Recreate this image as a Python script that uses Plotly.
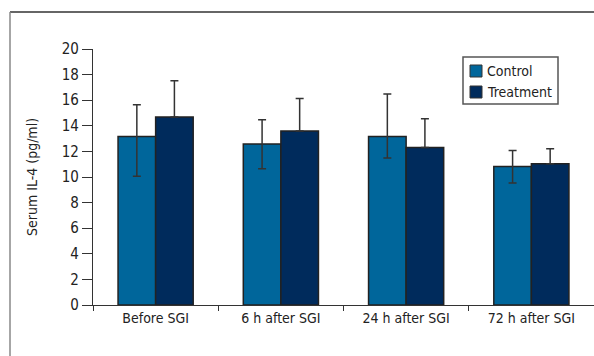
import plotly.graph_objects as go

categories = ["Before SGI", "6 h after SGI", "24 h after SGI", "72 h after SGI"]
control = [13.17, 12.58, 13.17, 10.83]
control_err_plus = [2.48, 1.90, 3.31, 1.25]
control_err_minus = [3.12, 1.93, 1.69, 1.30]
treatment = [14.69, 13.59, 12.31, 11.04]
treatment_err_plus = [2.83, 2.55, 2.24, 1.17]
treatment_err_minus = [0, 0, 0, 0]
y_ticks = [0, 2, 4, 6, 8, 10, 12, 14, 16, 18, 20]
series_names = ["Control", "Treatment"]
series_colors = ["#00669b", "#002b5c"]

W, H = 594, 356
L, R, T, B = 93, 0, 49, 51
FONT = "DejaVu Sans Condensed, DejaVu Sans, sans-serif"

fig = go.Figure()
fig.add_trace(go.Bar(
    name=series_names[0], x=categories, y=control,
    marker=dict(color=series_colors[0], line=dict(color="#222222", width=1.5)),
    error_y=dict(type="data", symmetric=False, array=control_err_plus,
                 arrayminus=control_err_minus, color="#333333", thickness=1.5, width=4),
))
fig.add_trace(go.Bar(
    name=series_names[1], x=categories, y=treatment,
    marker=dict(color=series_colors[1], line=dict(color="#222222", width=1.5)),
    error_y=dict(type="data", symmetric=False, array=treatment_err_plus,
                 arrayminus=treatment_err_minus, color="#333333", thickness=1.5, width=4),
))

pw = W - L - R
ph = H - T - B
def px(x):
    return (x - L) / pw
def py(y):
    return (H - B - y) / ph

shapes = [
    dict(type="line", xref="paper", yref="paper", x0=px(10), x1=px(600),
         y0=py(12), y1=py(12), line=dict(color="#333333", width=1.5)),
    dict(type="line", xref="paper", yref="paper", x0=px(10), x1=px(10),
         y0=py(12), y1=py(360), line=dict(color="#888888", width=1.5)),
    # legend box
    dict(type="rect", xref="paper", yref="paper", x0=px(463), x1=px(558),
         y0=py(57), y1=py(104), line=dict(color="#555555", width=1.5),
         fillcolor="white"),
]
annotations = [
    dict(text="Serum IL-4 (pg/ml)", xref="paper", yref="paper",
         x=px(32), y=0.5, textangle=-90, showarrow=False,
         xanchor="center", yanchor="middle",
         font=dict(family=FONT, size=14, color="#222222")),
]
for i, (name, col) in enumerate(zip(series_names, series_colors)):
    top = 65 + i * 21
    shapes.append(dict(type="rect", xref="paper", yref="paper",
                       x0=px(470), x1=px(482), y0=py(top), y1=py(top + 12),
                       line=dict(color="#333333", width=1), fillcolor=col))
    annotations.append(dict(text=name, xref="paper", yref="paper",
                            x=px(485), y=py(top + 6), showarrow=False,
                            xanchor="left", yanchor="middle",
                            font=dict(family=FONT, size=14, color="#222222")))

fig.update_layout(
    width=W, height=H,
    margin=dict(l=L, r=R, t=T, b=B),
    paper_bgcolor="white", plot_bgcolor="white",
    barmode="group", bargap=0.4, bargroupgap=0,
    font=dict(family=FONT, size=14, color="#222222"),
    showlegend=False,
    shapes=shapes, annotations=annotations,
    xaxis=dict(showline=True, linecolor="#333333", linewidth=1.2,
               ticks="outside", ticklen=5, tickcolor="#333333",
               tickson="boundaries", showgrid=False,
               tickfont=dict(family=FONT, size=14, color="#222222")),
    yaxis=dict(range=[0, 20], tickvals=y_ticks, showline=True,
               linecolor="#333333", linewidth=1.2, ticks="outside",
               ticklen=10, tickcolor="#333333", showgrid=False, zeroline=False,
               tickfont=dict(family=FONT, size=15, color="#222222")),
)

fig.write_html(
    "out.html",
    config={"displayModeBar": False},
    post_script="document.body.style.margin='0';document.body.style.overflow='hidden';"
                "document.documentElement.style.overflow='hidden';",
)
